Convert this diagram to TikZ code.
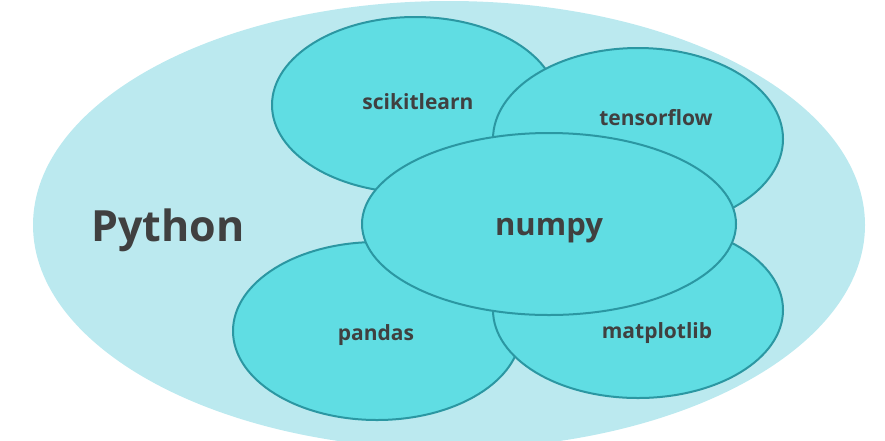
\documentclass[tikz,border=0pt]{standalone}
\usepackage{fontspec}
\setmainfont{Open Sans}
\usetikzlibrary{shapes.geometric}
\definecolor{outerfill}{HTML}{BBE9EF}
\definecolor{libfill}{HTML}{60DDE3}
\definecolor{libdraw}{HTML}{2B97A2}
\definecolor{labeltext}{HTML}{404040}

\begin{document}
\begin{tikzpicture}[
  x=1pt, y=-1pt,
  lib/.style={ellipse,draw=libdraw,fill=libfill,line width=2pt,inner sep=0pt},  liblabel/.style={text=labeltext,font=\bfseries\fontsize{21}{24}\selectfont}
]
  \useasboundingbox (0,0) rectangle (885,440);
  \fill[outerfill] (449,225) ellipse [x radius=416, y radius=224];
  \node[lib,minimum width=286pt,minimum height=176pt] (sk) at (415,105) {};
  \node[lib,minimum width=290pt,minimum height=182pt] (tf) at (638,139) {};
  \node[lib,minimum width=288pt,minimum height=178pt] (pd) at (377,331) {};
  \node[lib,minimum width=290pt,minimum height=176pt] (mp) at (638,310) {};
  \node[lib,minimum width=374pt,minimum height=182pt] (np) at (549,224) {};
  \node[liblabel] (sk-label) at (418,102) {scikitlearn};
  \node[liblabel] (tf-label) at (656,118) {tensorflow};
  \node[liblabel] (pd-label) at (376,335) {pandas};
  \node[liblabel] (mp-label) at (657,333) {matplotlib};
  \node[liblabel,font=\bfseries\fontsize{31}{35}\selectfont] (np-label) at (549,231) {numpy};
  \node[liblabel,font=\bfseries\fontsize{43}{48}\selectfont] (py-label) at (168,230) {Python};
\end{tikzpicture}
\end{document}
